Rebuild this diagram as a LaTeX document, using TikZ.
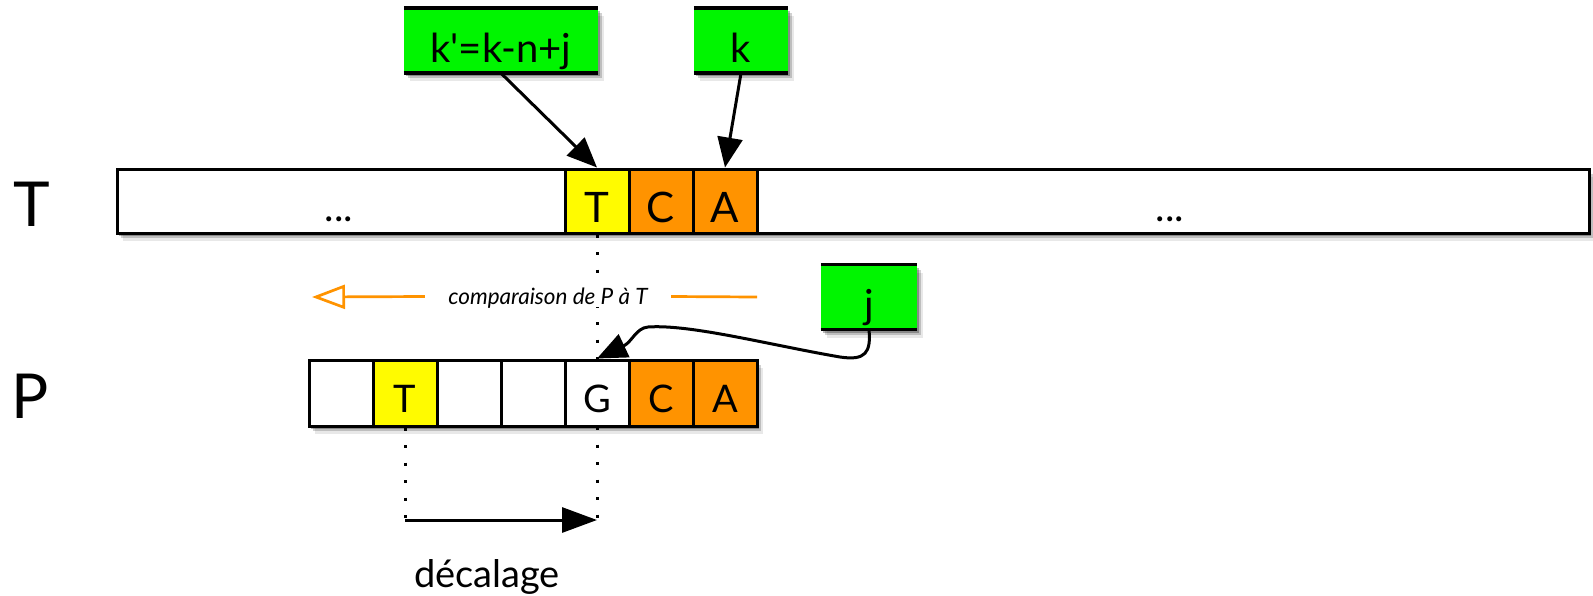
\documentclass[tikz,border=0pt]{standalone}
\usepackage{fontspec}
\setmainfont{Lato}
% plain family, so that the apostrophe stays straight
\newfontfamily\plainfont{Lato}
\usetikzlibrary{arrows.meta,shadows}
\definecolor{boxgreen}{RGB}{0,245,0}
\definecolor{cellorange}{RGB}{255,147,0}
\definecolor{cellyellow}{RGB}{255,251,0}

\begin{document}
\begin{tikzpicture}[x=1pt,y=-1pt,
  soft shadow/.style={
    general shadow={shadow xshift=2pt,shadow yshift=-3pt,fill=black,opacity=.28},
    general shadow={shadow xshift=4pt,shadow yshift=-5pt,fill=black,opacity=.18},
    general shadow={shadow xshift=6pt,shadow yshift=-8pt,fill=black,opacity=.09}},
  strip/.style={draw=black,line width=3pt,fill=white,inner sep=0pt},
  tcell/.style={draw=black,line width=3pt,minimum width=64pt,minimum height=64pt,inner sep=0pt,
    font=\fontsize{42pt}{42pt}\selectfont,text height=44pt,text depth=2pt},
  pcell/.style={draw=black,line width=3pt,minimum width=64pt,minimum height=66pt,inner sep=0pt,
    font=\fontsize{38pt}{38pt}\selectfont,text height=40pt,text depth=2pt},
  keybox/.style={fill=boxgreen,soft shadow,minimum height=65pt,inner sep=0pt,
    font=\plainfont\fontsize{40pt}{40pt}\selectfont,text height=45pt,text depth=2pt},
  bar/.style={line width=3.5pt},
  pointer/.style={line width=3pt,-{Triangle[length=30pt,width=25pt]}},
  dotline/.style={line width=3pt,dash pattern=on 3pt off 14.5pt},
  bigletter/.style={anchor=base,font=\fontsize{62pt}{62pt}\selectfont},
  scanline/.style={draw=cellorange,line width=2.7pt},
]
\useasboundingbox (0,0) rectangle (1593,595);

% row labels
\node[bigletter] (labT) at (32,226) {T};
\node[bigletter] (labP) at (30,418) {P};

% text T
\node[strip,soft shadow,minimum width=1472pt,minimum height=64pt] (Tstrip) at (853,201) {};
\node[tcell,fill=cellyellow] (tT) at (597,201) {T};
\node[tcell,fill=cellorange] (tC) at (661,201) {C};
\node[tcell,fill=cellorange] (tA) at (725,201) {A};
\node[anchor=base,font=\fontsize{40pt}{40pt}\selectfont] (dotsL) at (339,221.5) {...};
\node[anchor=base,font=\fontsize{40pt}{40pt}\selectfont] (dotsR) at (1170,221.5) {...};

% alignment guides
\coordinate (ldot) at (405,520);
\coordinate (rdot) at (597,520);
\draw[dotline] (tT.south) -- (rdot);

% pattern P
\node[strip,soft shadow,minimum width=448pt,minimum height=66pt] (Pstrip) at (533,393) {};
\node[pcell,fill=white] (p1) at (341,393) {};
\node[pcell,fill=cellyellow] (pT) at (405,393) {T};
\node[pcell,fill=white] (p3) at (469,393) {};
\node[pcell,fill=white] (p4) at (533,393) {};
\node[pcell,fill=white] (pG) at (597,393) {G};
\node[pcell,fill=cellorange] (pC) at (661,393) {C};
\node[pcell,fill=cellorange] (pA) at (725,393) {A};

\draw[dotline] (pT.south) -- (ldot);

% index boxes
\node[keybox,minimum width=194pt] (kp) at (501,40.5) {k'=k-n+j};
\node[keybox,minimum width=94pt] (k) at (741,40.5) {k};
\node[keybox,minimum width=96pt] (j) at (869,297) {j};
\foreach \b in {kp,k,j}{
  \draw[bar] (\b.north west) -- (\b.north east);
  \draw[bar] (\b.south west) -- (\b.south east);
}

% pointers
\draw[pointer] (kp.south) -- (tT.north);
\draw[pointer] (k.south) -- (tA.north);
\coordinate (jb1) at (840,357);
\coordinate (jb2) at (648,327);
\draw[pointer] (j.south) .. controls (871,352) and (866,361) .. (jb1)
  .. controls (770,345) and (690,324) .. (jb2)
  .. controls (636,328) and (632,342) .. (pG.north);

% scan direction
\node[fill=white,minimum width=246pt,inner xsep=0pt,inner ysep=0pt,text height=18pt,text depth=3pt,
  font=\itshape\fontsize{22.5pt}{22.5pt}\selectfont] (cmp) at (548,296.5) {comparaison de P à T};
\coordinate (oleft) at (312,297);
\coordinate (oright) at (757,297);
\draw[scanline,-{Triangle[open,length=33pt,width=24pt]}] (cmp.west) -- (oleft);
\draw[scanline] (cmp.east) -- (oright);

% shift
\draw[pointer,-{Triangle[length=35pt,width=25pt]}] (ldot) -- (rdot);
\node[anchor=base,font=\fontsize{38pt}{38pt}\selectfont] (dec) at (487,587) {décalage};
\end{tikzpicture}
\end{document}
